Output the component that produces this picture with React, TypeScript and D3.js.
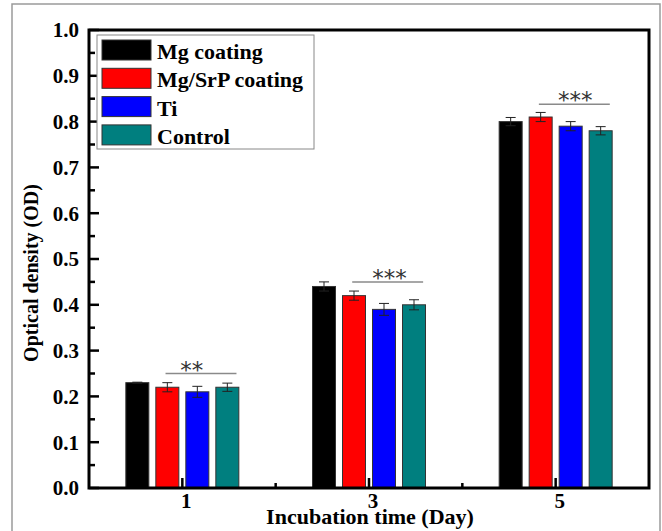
import React from "react";
import * as d3 from "d3";

const days = [1, 3, 5];
const seriesNames = ["Mg coating", "Mg/SrP coating", "Ti", "Control"];
const seriesColors = ["#000000", "#FF0000", "#0000FF", "#007F7F"];
const mgCoating = [0.23, 0.44, 0.8];
const mgSrpCoating = [0.22, 0.42, 0.81];
const ti = [0.21, 0.39, 0.79];
const control = [0.22, 0.4, 0.78];
const mgCoatingErr = [0.001, 0.01, 0.009];
const mgSrpCoatingErr = [0.01, 0.01, 0.01];
const tiErr = [0.012, 0.013, 0.01];
const controlErr = [0.009, 0.011, 0.009];
const sigLabels = ["**", "***", "***"];
const sigLevels = [0.25, 0.45, 0.838];
const sigTextOffsets = [0.1, 0.22, 0.21];
const yTicks = d3.range(0, 1.0001, 0.1);
const yMinorTicks = d3.range(0.05, 1, 0.1);
const xMajorTicks = [1, 3, 5];
const xMinorTicks = [2, 4];

const values = [mgCoating, mgSrpCoating, ti, control];
const errors = [mgCoatingErr, mgSrpCoatingErr, tiErr, controlErr];

const W = 662;
const H = 531;
const left = 89;
const right = 649;
const top = 30;
const bottom = 488;

export default function App() {
  const x = d3.scaleLinear().domain([0, 6]).range([left, right]);
  const y = d3.scaleLinear().domain([0, 1]).range([bottom, top]);
  const barW = 23;
  const pitch = 30;
  const serif = "'Liberation Serif', 'Times New Roman', serif";

  return (
    <svg width={W} height={H} style={{ position: "absolute", left: 0, top: 0, background: "#fff" }}>
      {/* outer frame */}
      <path d={`M12,${H} L12,4 L660,4 L660,${H}`} fill="none" stroke="#9a9a9a" strokeWidth={1.5} />

      {/* bars */}
      {days.map((d, gi) =>
        values.map((vals, si) => {
          const cx = x(d) + (si - 1.5) * pitch;
          const v = vals[gi];
          const e = errors[si][gi];
          return (
            <g key={`${gi}-${si}`}>
              <rect
                x={cx - barW / 2}
                y={y(v)}
                width={barW}
                height={y(0) - y(v)}
                fill={seriesColors[si]}
                stroke="#333"
                strokeWidth={1}
              />
              <line x1={cx} x2={cx} y1={y(v + e)} y2={y(v - e)} stroke="#222" strokeWidth={1} />
              <line x1={cx - 5} x2={cx + 5} y1={y(v + e)} y2={y(v + e)} stroke="#222" strokeWidth={1} />
              <line x1={cx - 5} x2={cx + 5} y1={y(v - e)} y2={y(v - e)} stroke="#222" strokeWidth={1} />
            </g>
          );
        })
      )}

      {/* significance */}
      {days.map((d, gi) => (
        <g key={`sig-${gi}`}>
          <line
            x1={x(d - 0.18)}
            x2={x(d + 0.58)}
            y1={y(sigLevels[gi])}
            y2={y(sigLevels[gi])}
            stroke="#8a8a8a"
            strokeWidth={1.5}
          />
          <text
            x={x(d + sigTextOffsets[gi])}
            y={y(sigLevels[gi]) + 4}
            textAnchor="middle"
            fontFamily="'DejaVu Sans', sans-serif"
            fontSize={23}
            fill="#333"
          >
            {sigLabels[gi]}
          </text>
        </g>
      ))}

      {/* y ticks */}
      {yTicks.map((t) => (
        <g key={`yt-${t}`}>
          <line x1={left} x2={left + 10} y1={y(t)} y2={y(t)} stroke="#000" strokeWidth={2.5} />
          <text
            x={79}
            y={y(t)}
            dy="0.35em"
            textAnchor="end"
            fontFamily={serif}
            fontWeight="bold"
            fontSize={21}
            fill="#000"
          >
            {t.toFixed(1)}
          </text>
        </g>
      ))}
      {yMinorTicks.map((t) => (
        <line key={`ym-${t}`} x1={left} x2={left + 6} y1={y(t)} y2={y(t)} stroke="#000" strokeWidth={2.5} />
      ))}

      {/* x ticks */}
      {xMajorTicks.map((t) => (
        <g key={`xt-${t}`}>
          <line x1={x(t)} x2={x(t)} y1={bottom} y2={bottom - 10} stroke="#000" strokeWidth={2.5} />
          <text
            x={x(t) + 4}
            y={508}
            textAnchor="middle"
            fontFamily={serif}
            fontWeight="bold"
            fontSize={21}
            fill="#000"
          >
            {t}
          </text>
        </g>
      ))}
      {xMinorTicks.map((t) => (
        <line key={`xm-${t}`} x1={x(t)} x2={x(t)} y1={bottom} y2={bottom - 5} stroke="#000" strokeWidth={2.5} />
      ))}

      {/* plot frame */}
      <rect x={left} y={top} width={right - left} height={bottom - top} fill="none" stroke="#000" strokeWidth={3} />

      {/* axis titles */}
      <text
        x={370}
        y={524}
        textAnchor="middle"
        fontFamily={serif}
        fontWeight="bold"
        fontSize={22}
        fill="#000"
      >
        Incubation time (Day)
      </text>
      <text
        transform={`translate(38,273) rotate(-90)`}
        textAnchor="middle"
        fontFamily={serif}
        fontWeight="bold"
        fontSize={20}
        fill="#000"
      >
        Optical density (OD)
      </text>

      {/* legend */}
      <rect x={97} y={35} width={217} height={114} fill="#fff" stroke="#888" strokeWidth={1} />
      {seriesNames.map((name, i) => (
        <g key={`lg-${i}`}>
          <rect x={102} y={40 + i * 28.3} width={49} height={20} fill={seriesColors[i]} stroke="#333" strokeWidth={1} />
          <text
            x={157}
            y={59 + i * 28.3}
            fontFamily={serif}
            fontWeight="bold"
            fontSize={22}
            fill="#000"
          >
            {name}
          </text>
        </g>
      ))}
    </svg>
  );
}
